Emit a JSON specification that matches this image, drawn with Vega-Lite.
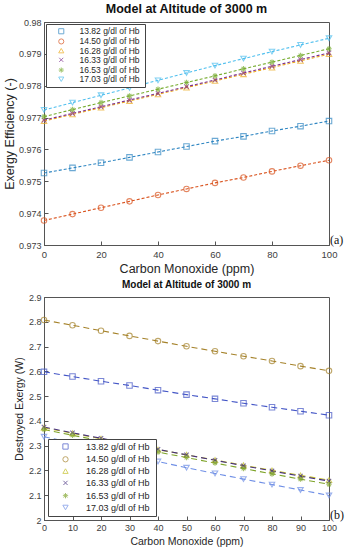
{
  "$schema": "https://vega.github.io/schema/vega-lite/v6.json",
  "padding": {"left": 2, "top": 2, "right": 2, "bottom": 2},
  "background": "white",
  "spacing": 52,
  "bounds": "flush",
  "config": {
    "view": {"stroke": "#555"},
    "font": "Liberation Sans",
    "axis": {"grid": false, "labelOverlap": false, "labelFlush": false, "domainColor": "#555", "tickColor": "#555", "labelColor": "#404040", "titleColor": "#262626", "titleFontWeight": "normal", "labelFont": "Liberation Sans", "titleFont": "Liberation Sans"},
    "legend": {"fillColor": "white", "strokeColor": "#444", "labelFont": "Liberation Sans", "labelColor": "#262626", "symbolStrokeWidth": 1, "symbolFillColor": "transparent"}
  },
  "resolve": {"scale": {"x": "independent", "y": "independent", "color": "independent", "shape": "independent"}},
  "datasets": {
    "eff": [
      {"co": 0, "hb": "13.82 g/dl of Hb", "v": 0.97526}, {"co": 10, "hb": "13.82 g/dl of Hb", "v": 0.97542}, {"co": 20, "hb": "13.82 g/dl of Hb", "v": 0.97558}, {"co": 30, "hb": "13.82 g/dl of Hb", "v": 0.97575}, {"co": 40, "hb": "13.82 g/dl of Hb", "v": 0.97592}, {"co": 50, "hb": "13.82 g/dl of Hb", "v": 0.97609}, {"co": 60, "hb": "13.82 g/dl of Hb", "v": 0.97626}, {"co": 70, "hb": "13.82 g/dl of Hb", "v": 0.97641}, {"co": 80, "hb": "13.82 g/dl of Hb", "v": 0.97658}, {"co": 90, "hb": "13.82 g/dl of Hb", "v": 0.97673}, {"co": 100, "hb": "13.82 g/dl of Hb", "v": 0.97689},
      {"co": 0, "hb": "14.50 g/dl of Hb", "v": 0.97377}, {"co": 10, "hb": "14.50 g/dl of Hb", "v": 0.97397}, {"co": 20, "hb": "14.50 g/dl of Hb", "v": 0.97417}, {"co": 30, "hb": "14.50 g/dl of Hb", "v": 0.97437}, {"co": 40, "hb": "14.50 g/dl of Hb", "v": 0.97457}, {"co": 50, "hb": "14.50 g/dl of Hb", "v": 0.97476}, {"co": 60, "hb": "14.50 g/dl of Hb", "v": 0.97495}, {"co": 70, "hb": "14.50 g/dl of Hb", "v": 0.97512}, {"co": 80, "hb": "14.50 g/dl of Hb", "v": 0.97531}, {"co": 90, "hb": "14.50 g/dl of Hb", "v": 0.97549}, {"co": 100, "hb": "14.50 g/dl of Hb", "v": 0.97566},
      {"co": 0, "hb": "16.28  g/dl of Hb", "v": 0.97689}, {"co": 10, "hb": "16.28  g/dl of Hb", "v": 0.9771}, {"co": 20, "hb": "16.28  g/dl of Hb", "v": 0.97731}, {"co": 30, "hb": "16.28  g/dl of Hb", "v": 0.97752}, {"co": 40, "hb": "16.28  g/dl of Hb", "v": 0.97773}, {"co": 50, "hb": "16.28  g/dl of Hb", "v": 0.97794}, {"co": 60, "hb": "16.28  g/dl of Hb", "v": 0.97815}, {"co": 70, "hb": "16.28  g/dl of Hb", "v": 0.97836}, {"co": 80, "hb": "16.28  g/dl of Hb", "v": 0.97857}, {"co": 90, "hb": "16.28  g/dl of Hb", "v": 0.97878}, {"co": 100, "hb": "16.28  g/dl of Hb", "v": 0.97899},
      {"co": 0, "hb": "16.33 g/dl of Hb", "v": 0.97692}, {"co": 10, "hb": "16.33 g/dl of Hb", "v": 0.97713}, {"co": 20, "hb": "16.33 g/dl of Hb", "v": 0.97734}, {"co": 30, "hb": "16.33 g/dl of Hb", "v": 0.97755}, {"co": 40, "hb": "16.33 g/dl of Hb", "v": 0.97776}, {"co": 50, "hb": "16.33 g/dl of Hb", "v": 0.97797}, {"co": 60, "hb": "16.33 g/dl of Hb", "v": 0.97818}, {"co": 70, "hb": "16.33 g/dl of Hb", "v": 0.9784}, {"co": 80, "hb": "16.33 g/dl of Hb", "v": 0.97861}, {"co": 90, "hb": "16.33 g/dl of Hb", "v": 0.97882}, {"co": 100, "hb": "16.33 g/dl of Hb", "v": 0.97903},
      {"co": 0, "hb": "16.53 g/dl of Hb", "v": 0.97703}, {"co": 10, "hb": "16.53 g/dl of Hb", "v": 0.97725}, {"co": 20, "hb": "16.53 g/dl of Hb", "v": 0.97747}, {"co": 30, "hb": "16.53 g/dl of Hb", "v": 0.97768}, {"co": 40, "hb": "16.53 g/dl of Hb", "v": 0.97789}, {"co": 50, "hb": "16.53 g/dl of Hb", "v": 0.9781}, {"co": 60, "hb": "16.53 g/dl of Hb", "v": 0.97831}, {"co": 70, "hb": "16.53 g/dl of Hb", "v": 0.97853}, {"co": 80, "hb": "16.53 g/dl of Hb", "v": 0.97874}, {"co": 90, "hb": "16.53 g/dl of Hb", "v": 0.97895}, {"co": 100, "hb": "16.53 g/dl of Hb", "v": 0.97916},
      {"co": 0, "hb": "17.03 g/dl of Hb", "v": 0.97724}, {"co": 10, "hb": "17.03 g/dl of Hb", "v": 0.97747}, {"co": 20, "hb": "17.03 g/dl of Hb", "v": 0.9777}, {"co": 30, "hb": "17.03 g/dl of Hb", "v": 0.97793}, {"co": 40, "hb": "17.03 g/dl of Hb", "v": 0.97817}, {"co": 50, "hb": "17.03 g/dl of Hb", "v": 0.9784}, {"co": 60, "hb": "17.03 g/dl of Hb", "v": 0.97863}, {"co": 70, "hb": "17.03 g/dl of Hb", "v": 0.97885}, {"co": 80, "hb": "17.03 g/dl of Hb", "v": 0.97907}, {"co": 90, "hb": "17.03 g/dl of Hb", "v": 0.97928}, {"co": 100, "hb": "17.03 g/dl of Hb", "v": 0.97949}
    ],
    "des": [
      {"co": 0, "hb": "13.82 g/dl of Hb", "v": 2.598}, {"co": 10, "hb": "13.82 g/dl of Hb", "v": 2.579}, {"co": 20, "hb": "13.82 g/dl of Hb", "v": 2.56}, {"co": 30, "hb": "13.82 g/dl of Hb", "v": 2.543}, {"co": 40, "hb": "13.82 g/dl of Hb", "v": 2.524}, {"co": 50, "hb": "13.82 g/dl of Hb", "v": 2.506}, {"co": 60, "hb": "13.82 g/dl of Hb", "v": 2.489}, {"co": 70, "hb": "13.82 g/dl of Hb", "v": 2.471}, {"co": 80, "hb": "13.82 g/dl of Hb", "v": 2.455}, {"co": 90, "hb": "13.82 g/dl of Hb", "v": 2.439}, {"co": 100, "hb": "13.82 g/dl of Hb", "v": 2.423},
      {"co": 0, "hb": "14.50 g/dl of Hb", "v": 2.807}, {"co": 10, "hb": "14.50 g/dl of Hb", "v": 2.786}, {"co": 20, "hb": "14.50 g/dl of Hb", "v": 2.764}, {"co": 30, "hb": "14.50 g/dl of Hb", "v": 2.743}, {"co": 40, "hb": "14.50 g/dl of Hb", "v": 2.722}, {"co": 50, "hb": "14.50 g/dl of Hb", "v": 2.701}, {"co": 60, "hb": "14.50 g/dl of Hb", "v": 2.681}, {"co": 70, "hb": "14.50 g/dl of Hb", "v": 2.661}, {"co": 80, "hb": "14.50 g/dl of Hb", "v": 2.642}, {"co": 90, "hb": "14.50 g/dl of Hb", "v": 2.621}, {"co": 100, "hb": "14.50 g/dl of Hb", "v": 2.602},
      {"co": 0, "hb": "16.28  g/dl of Hb", "v": 2.372}, {"co": 10, "hb": "16.28  g/dl of Hb", "v": 2.35}, {"co": 20, "hb": "16.28  g/dl of Hb", "v": 2.328}, {"co": 30, "hb": "16.28  g/dl of Hb", "v": 2.306}, {"co": 40, "hb": "16.28  g/dl of Hb", "v": 2.284}, {"co": 50, "hb": "16.28  g/dl of Hb", "v": 2.263}, {"co": 60, "hb": "16.28  g/dl of Hb", "v": 2.242}, {"co": 70, "hb": "16.28  g/dl of Hb", "v": 2.221}, {"co": 80, "hb": "16.28  g/dl of Hb", "v": 2.2}, {"co": 90, "hb": "16.28  g/dl of Hb", "v": 2.18}, {"co": 100, "hb": "16.28  g/dl of Hb", "v": 2.161},
      {"co": 0, "hb": "16.33 g/dl of Hb", "v": 2.375}, {"co": 10, "hb": "16.33 g/dl of Hb", "v": 2.352}, {"co": 20, "hb": "16.33 g/dl of Hb", "v": 2.33}, {"co": 30, "hb": "16.33 g/dl of Hb", "v": 2.307}, {"co": 40, "hb": "16.33 g/dl of Hb", "v": 2.285}, {"co": 50, "hb": "16.33 g/dl of Hb", "v": 2.263}, {"co": 60, "hb": "16.33 g/dl of Hb", "v": 2.241}, {"co": 70, "hb": "16.33 g/dl of Hb", "v": 2.219}, {"co": 80, "hb": "16.33 g/dl of Hb", "v": 2.198}, {"co": 90, "hb": "16.33 g/dl of Hb", "v": 2.177}, {"co": 100, "hb": "16.33 g/dl of Hb", "v": 2.157},
      {"co": 0, "hb": "16.53 g/dl of Hb", "v": 2.365}, {"co": 10, "hb": "16.53 g/dl of Hb", "v": 2.342}, {"co": 20, "hb": "16.53 g/dl of Hb", "v": 2.319}, {"co": 30, "hb": "16.53 g/dl of Hb", "v": 2.297}, {"co": 40, "hb": "16.53 g/dl of Hb", "v": 2.274}, {"co": 50, "hb": "16.53 g/dl of Hb", "v": 2.252}, {"co": 60, "hb": "16.53 g/dl of Hb", "v": 2.23}, {"co": 70, "hb": "16.53 g/dl of Hb", "v": 2.208}, {"co": 80, "hb": "16.53 g/dl of Hb", "v": 2.186}, {"co": 90, "hb": "16.53 g/dl of Hb", "v": 2.165}, {"co": 100, "hb": "16.53 g/dl of Hb", "v": 2.144},
      {"co": 0, "hb": "17.03 g/dl of Hb", "v": 2.336}, {"co": 10, "hb": "17.03 g/dl of Hb", "v": 2.312}, {"co": 20, "hb": "17.03 g/dl of Hb", "v": 2.288}, {"co": 30, "hb": "17.03 g/dl of Hb", "v": 2.262}, {"co": 40, "hb": "17.03 g/dl of Hb", "v": 2.236}, {"co": 50, "hb": "17.03 g/dl of Hb", "v": 2.211}, {"co": 60, "hb": "17.03 g/dl of Hb", "v": 2.188}, {"co": 70, "hb": "17.03 g/dl of Hb", "v": 2.165}, {"co": 80, "hb": "17.03 g/dl of Hb", "v": 2.143}, {"co": 90, "hb": "17.03 g/dl of Hb", "v": 2.121}, {"co": 100, "hb": "17.03 g/dl of Hb", "v": 2.099}
    ]
  },
  "vconcat": [
    {
      "width": 285,
      "height": 223,
      "title": {"text": "Model at Altitude of 3000 m", "fontSize": 12.5, "fontWeight": "bold", "color": "#111", "offset": 3, "font": "Liberation Sans"},
      "layer": [
        {
          "data": {"name": "eff"},
          "mark": {"type": "line", "strokeDash": [3, 2], "strokeWidth": 1.1},
          "encoding": {
            "x": {"field": "co", "type": "quantitative", "scale": {"domain": [0, 100], "nice": false}, "axis": {"values": [0, 20, 40, 60, 80, 100], "title": "Carbon Monoxide (ppm)", "labelFontSize": 9.5, "titleFontSize": 12.5, "tickSize": -4, "labelPadding": 8, "titlePadding": 4}},
            "y": {"field": "v", "type": "quantitative", "scale": {"domain": [0.973, 0.98], "nice": false, "zero": false}, "axis": {"values": [0.973, 0.974, 0.975, 0.976, 0.977, 0.978, 0.979, 0.98], "format": "~g", "title": "Exergy Efficiency (-)", "labelFontSize": 9, "titleFontSize": 12.5, "tickSize": -4, "labelPadding": 7, "titlePadding": 2}},
            "color": {"field": "hb", "type": "nominal", "scale": {"domain": ["13.82 g/dl of Hb", "14.50 g/dl of Hb", "16.28  g/dl of Hb", "16.33 g/dl of Hb", "16.53 g/dl of Hb", "17.03 g/dl of Hb"], "range": ["#2f86c2", "#d9531e", "#edac20", "#7e2f8e", "#77ac30", "#4dbeee"]}, "legend": {"title": null, "orient": "top-left", "offset": 2, "padding": 3, "labelFontSize": 8.5, "rowPadding": 0.2, "symbolSize": 26, "symbolOffset": 8, "labelOffset": 14}}
          }
        },
        {
          "data": {"name": "eff"},
          "mark": {"type": "point", "filled": false, "size": 30, "strokeWidth": 1.1},
          "encoding": {
            "x": {"field": "co", "type": "quantitative", "scale": {"domain": [0, 100], "nice": false}, "axis": {"values": [0, 20, 40, 60, 80, 100], "title": "Carbon Monoxide (ppm)", "labelFontSize": 9.5, "titleFontSize": 12.5, "tickSize": -4, "labelPadding": 8, "titlePadding": 4}},
            "y": {"field": "v", "type": "quantitative", "scale": {"domain": [0.973, 0.98], "nice": false, "zero": false}, "axis": {"values": [0.973, 0.974, 0.975, 0.976, 0.977, 0.978, 0.979, 0.98], "format": "~g", "title": "Exergy Efficiency (-)", "labelFontSize": 9, "titleFontSize": 12.5, "tickSize": -4, "labelPadding": 7, "titlePadding": 2}},
            "color": {"field": "hb", "type": "nominal", "legend": {"title": null, "orient": "top-left", "offset": 2, "padding": 3, "labelFontSize": 8.5, "rowPadding": 0.2, "symbolSize": 26, "symbolOffset": 8, "labelOffset": 14}},
            "shape": {"field": "hb", "type": "nominal", "scale": {"domain": ["13.82 g/dl of Hb", "14.50 g/dl of Hb", "16.28  g/dl of Hb", "16.33 g/dl of Hb", "16.53 g/dl of Hb", "17.03 g/dl of Hb"], "range": ["square", "circle", "triangle-up", "M-0.8,-0.8L0.8,0.8M-0.8,0.8L0.8,-0.8", "M0,-1L0,1M-1,0L1,0M-0.7,-0.7L0.7,0.7M-0.7,0.7L0.7,-0.7", "triangle-down"]}, "legend": {"title": null, "orient": "top-left", "offset": 2, "padding": 3, "labelFontSize": 8.5, "rowPadding": 0.2, "symbolSize": 26, "symbolOffset": 8, "labelOffset": 14}}
          }
        },
        {
          "data": {"values": [{"t": "(a)"}]},
          "mark": {"type": "text", "align": "left", "baseline": "bottom", "dx": 1, "dy": 2, "font": "Liberation Serif", "fontSize": 12, "color": "#111"},
          "encoding": {
            "x": {"datum": 100, "type": "quantitative", "scale": {"domain": [0, 100], "nice": false}, "axis": {"values": [0, 20, 40, 60, 80, 100], "title": "Carbon Monoxide (ppm)", "labelFontSize": 9.5, "titleFontSize": 12.5, "tickSize": -4, "labelPadding": 8, "titlePadding": 4}},
            "y": {"datum": 0.973, "type": "quantitative", "scale": {"domain": [0.973, 0.98], "nice": false, "zero": false}, "axis": {"values": [0.973, 0.974, 0.975, 0.976, 0.977, 0.978, 0.979, 0.98], "format": "~g", "title": "Exergy Efficiency (-)", "labelFontSize": 9, "titleFontSize": 12.5, "tickSize": -4, "labelPadding": 7, "titlePadding": 2}},
            "text": {"field": "t"}
          }
        }
      ]
    },
    {
      "width": 285,
      "height": 223,
      "title": {"text": "Model at Altitude of 3000 m", "fontSize": 10, "fontWeight": "bold", "color": "#111", "offset": 3, "font": "Liberation Sans"},
      "layer": [
        {
          "data": {"name": "des"},
          "mark": {"type": "line", "strokeDash": [6, 4], "strokeWidth": 1.1},
          "encoding": {
            "x": {"field": "co", "type": "quantitative", "scale": {"domain": [0, 100], "nice": false}, "axis": {"values": [0, 10, 20, 30, 40, 50, 60, 70, 80, 90, 100], "title": "Carbon Monoxide (ppm)", "labelFontSize": 9, "titleFontSize": 10.5, "tickSize": -4, "labelPadding": 7, "titlePadding": 4}},
            "y": {"field": "v", "type": "quantitative", "scale": {"domain": [2, 2.9], "nice": false, "zero": false}, "axis": {"values": [2, 2.1, 2.2, 2.3, 2.4, 2.5, 2.6, 2.7, 2.8, 2.9], "format": "~g", "title": "Destroyed Exergy (W)", "labelFontSize": 9, "titleFontSize": 10.5, "tickSize": -4, "labelPadding": 7, "titlePadding": 4}},
            "color": {"field": "hb", "type": "nominal", "scale": {"domain": ["13.82 g/dl of Hb", "14.50 g/dl of Hb", "16.28  g/dl of Hb", "16.33 g/dl of Hb", "16.53 g/dl of Hb", "17.03 g/dl of Hb"], "range": ["#4456c6", "#a5822a", "#c4c024", "#463080", "#7fa42a", "#7090e6"]}, "legend": {"title": null, "orient": "bottom-left", "offset": 4, "padding": 3, "labelFontSize": 9, "rowPadding": 1.8, "symbolSize": 28, "symbolOffset": 10, "labelOffset": 16}}
          }
        },
        {
          "data": {"name": "des"},
          "mark": {"type": "point", "filled": false, "size": 30, "strokeWidth": 1.1},
          "encoding": {
            "x": {"field": "co", "type": "quantitative", "scale": {"domain": [0, 100], "nice": false}, "axis": {"values": [0, 10, 20, 30, 40, 50, 60, 70, 80, 90, 100], "title": "Carbon Monoxide (ppm)", "labelFontSize": 9, "titleFontSize": 10.5, "tickSize": -4, "labelPadding": 7, "titlePadding": 4}},
            "y": {"field": "v", "type": "quantitative", "scale": {"domain": [2, 2.9], "nice": false, "zero": false}, "axis": {"values": [2, 2.1, 2.2, 2.3, 2.4, 2.5, 2.6, 2.7, 2.8, 2.9], "format": "~g", "title": "Destroyed Exergy (W)", "labelFontSize": 9, "titleFontSize": 10.5, "tickSize": -4, "labelPadding": 7, "titlePadding": 4}},
            "color": {"field": "hb", "type": "nominal", "legend": {"title": null, "orient": "bottom-left", "offset": 4, "padding": 3, "labelFontSize": 9, "rowPadding": 1.8, "symbolSize": 28, "symbolOffset": 10, "labelOffset": 16}},
            "shape": {"field": "hb", "type": "nominal", "scale": {"domain": ["13.82 g/dl of Hb", "14.50 g/dl of Hb", "16.28  g/dl of Hb", "16.33 g/dl of Hb", "16.53 g/dl of Hb", "17.03 g/dl of Hb"], "range": ["square", "circle", "triangle-up", "M-0.8,-0.8L0.8,0.8M-0.8,0.8L0.8,-0.8", "M0,-1L0,1M-1,0L1,0M-0.7,-0.7L0.7,0.7M-0.7,0.7L0.7,-0.7", "triangle-down"]}, "legend": {"title": null, "orient": "bottom-left", "offset": 4, "padding": 3, "labelFontSize": 9, "rowPadding": 1.8, "symbolSize": 28, "symbolOffset": 10, "labelOffset": 16}}
          }
        },
        {
          "data": {"values": [{"t": "(b)"}]},
          "mark": {"type": "text", "align": "left", "baseline": "bottom", "dx": 1, "dy": 2, "font": "Liberation Serif", "fontSize": 12, "color": "#111"},
          "encoding": {
            "x": {"datum": 100, "type": "quantitative", "scale": {"domain": [0, 100], "nice": false}, "axis": {"values": [0, 10, 20, 30, 40, 50, 60, 70, 80, 90, 100], "title": "Carbon Monoxide (ppm)", "labelFontSize": 9, "titleFontSize": 10.5, "tickSize": -4, "labelPadding": 7, "titlePadding": 4}},
            "y": {"datum": 2, "type": "quantitative", "scale": {"domain": [2, 2.9], "nice": false, "zero": false}, "axis": {"values": [2, 2.1, 2.2, 2.3, 2.4, 2.5, 2.6, 2.7, 2.8, 2.9], "format": "~g", "title": "Destroyed Exergy (W)", "labelFontSize": 9, "titleFontSize": 10.5, "tickSize": -4, "labelPadding": 7, "titlePadding": 4}},
            "text": {"field": "t"}
          }
        }
      ]
    }
  ]
}
